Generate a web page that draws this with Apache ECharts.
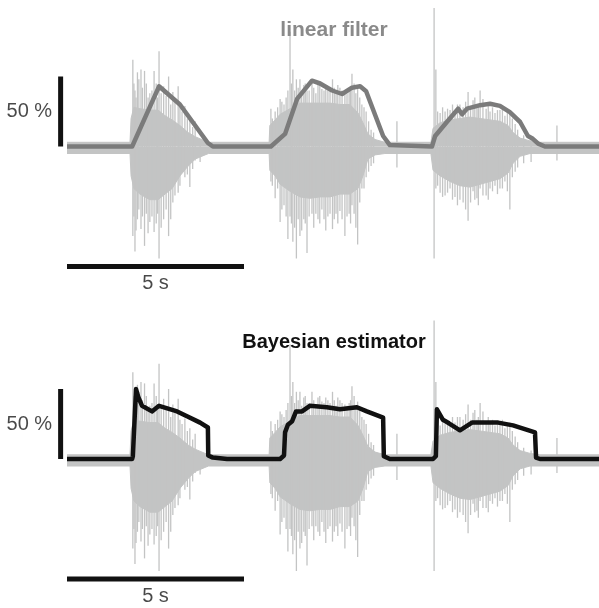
<!DOCTYPE html>
<html>
<head>
<meta charset="utf-8">
<script src="https://cdn.jsdelivr.net/npm/echarts@6/dist/echarts.min.js"></script>
<style>
  html, body { margin: 0; padding: 0; background: #fff; }
  #main { width: 599px; height: 608px; }
</style>
</head>
<body>
<div id="main"></div>
<script>
// EMG trace (same in both panels): dense body envelope, in % of scale
var emgBodyT  = [0, 1.78, 1.81, 1.89, 2.06, 2.34, 2.57, 2.77, 2.97, 3.19, 3.42, 3.62, 3.90, 4.0,
                 5.71, 5.73, 5.88, 6.02, 6.30, 6.58, 6.86, 7.15, 7.43, 7.71, 7.99, 8.22, 8.36, 8.50, 8.70, 8.98,
                 10.28, 10.34, 10.54, 10.82, 11.10, 11.38, 11.67, 11.95, 12.23, 12.46, 12.60, 12.80, 13.08, 13.36, 15.03];
var emgBodyHi = [3, 3, 20, 28, 27, 26, 26, 22, 19, 15, 10, 7, 4, 3,
                 3, 15, 19, 23, 27, 31, 31, 31, 31, 30, 30, 24, 17, 9, 5, 3,
                 3, 13, 17, 19, 20, 21, 20, 19, 18, 15, 10, 6, 4, 3, 3];
var emgBodyLo = [-5, -5, -21, -30, -34, -38, -38, -34, -30, -21, -14, -9, -6, -5,
                 -5, -17, -21, -27, -32, -36, -37, -36, -36, -34, -34, -30, -21, -9, -6, -5,
                 -5, -17, -21, -25, -28, -29, -27, -25, -23, -19, -12, -7, -5, -5, -5];

// individual EMG spikes
var spikeT  = [1.86, 1.89, 1.92, 1.95, 1.99, 2.03, 2.09, 2.13, 2.19, 2.24, 2.29, 2.34, 2.40, 2.46, 2.52, 2.56,
               2.60, 2.66, 2.73, 2.80, 2.87, 2.93, 2.99, 3.05, 3.14, 3.19, 3.25, 3.33, 3.40, 3.47, 3.55, 3.62, 3.76,
               5.76, 5.80, 5.88, 5.95, 6.02, 6.07, 6.13, 6.19, 6.24, 6.30, 6.34, 6.38, 6.43, 6.48, 6.53, 6.58,
               6.63, 6.69, 6.73, 6.78, 6.84, 6.92, 6.97, 7.03, 7.09, 7.14, 7.20, 7.26, 7.31, 7.37, 7.43, 7.50,
               7.55, 7.60, 7.65, 7.71, 7.77, 7.85, 7.91, 7.97, 8.01, 8.05, 8.11, 8.16, 8.21, 8.27, 8.33, 8.39,
               8.45, 8.52, 8.59, 8.66, 9.32,
               10.37, 10.42, 10.47, 10.54, 10.61, 10.68, 10.75, 10.82, 10.89, 10.96, 11.03, 11.10, 11.19, 11.26,
               11.33, 11.40, 11.47, 11.52, 11.58, 11.62, 11.67, 11.75, 11.84, 11.90, 11.95, 12.02, 12.09, 12.16,
               12.23, 12.30, 12.37, 12.44, 12.51, 12.58, 12.66, 12.73, 12.90, 13.11, 13.84];
var spikeHi = [62, 45, 40, 35, 53, 48, 55, 42, 54, 45, 35, 38, 40, 54, 45, 35,
               68, 38, 43, 36, 50, 30, 39, 33, 43, 28, 25, 29, 20, 22, 14, 18, 5,
               27, 20, 25, 28, 34, 32, 30, 35, 40, 82, 45, 55, 40, 48, 42, 48,
               38, 44, 45, 40, 40, 48, 42, 38, 44, 45, 41, 40, 44, 42, 40, 48,
               42, 38, 44, 42, 40, 39, 38, 40, 42, 52, 45, 38, 41, 35, 30, 28,
               25, 18, 12, 10, 18,
               99, 55, 25, 24, 28, 25, 27, 26, 30, 26, 30, 30, 28, 32,
               39, 28, 33, 35, 28, 30, 40, 34, 27, 30, 25, 28, 24, 26,
               26, 28, 22, 25, 26, 20, 16, 12, 8, 6, 15];
var spikeLo = [-64, -50, -75, -60, -52, -45, -59, -50, -71, -48, -62, -54, -50, -61, -55, -48,
               -80, -58, -52, -45, -64, -52, -40, -35, -33, -28, -18, -22, -20, -29, -16, -10, -11,
               -25, -28, -37, -30, -54, -45, -42, -50, -66, -50, -55, -68, -58, -80, -52, -64,
               -60, -52, -55, -76, -50, -48, -58, -48, -52, -55, -45, -52, -60, -50, -48, -59,
               -52, -48, -55, -46, -52, -64, -50, -48, -55, -42, -48, -58, -70, -40, -30, -30,
               -22, -18, -14, -12, -15,
               -80, -30, -28, -33, -36, -35, -33, -30, -38, -36, -42, -38, -40, -45,
               -53, -40, -32, -38, -37, -42, -30, -35, -35, -38, -30, -32, -28, -34,
               -30, -30, -25, -32, -45, -22, -18, -15, -12, -11, -10];

// linear filter estimate (%)
var linT = [0, 1.84, 2.60, 3.19, 3.98, 4.12, 5.76, 6.16, 6.50, 6.92, 7.15, 7.49, 7.77, 8.05, 8.28, 8.45,
            8.93, 9.12, 10.31, 10.40, 10.73, 11.05, 11.16, 11.30, 11.67, 11.95, 12.23, 12.51, 12.80,
            13.02, 13.16, 13.31, 13.50, 15.03];
var linV = [0, 0, 43, 30, 2.5, 0, 0, 9, 34, 47, 45, 40, 37.5, 42, 43, 39.5,
            7.5, 1, 0, 7.5, 17.5, 27, 23, 27, 29.5, 30.5, 29, 24.5, 17.5,
            7.5, 5.5, 2, 0, 0];

// Bayesian estimator (%)
var bayT = [0, 1.84, 1.86, 1.95, 2.01, 2.12, 2.40, 2.60, 3.11, 3.39, 3.76, 3.98, 3.99, 4.12, 4.52,
            6.02, 6.13, 6.16, 6.24, 6.36, 6.47, 6.64, 6.86, 7.34, 7.71, 8.19, 8.47, 8.93, 8.95, 9.12,
            10.34, 10.42, 10.45, 10.62, 10.79, 11.10, 11.44, 12.18, 12.60, 13.22, 13.25, 13.36, 15.03];
var bayV = [0, 0, 2, 50, 44.5, 38, 34, 38, 34, 30.5, 26, 22.5, 2.5, 1, 0,
            0, 2.5, 19, 24.5, 27, 34, 34, 38, 37, 35.5, 37, 34, 29.5, 2, 0,
            0, 2, 35.5, 28, 25.5, 20.5, 26, 26, 24, 19, 1, 0, 0];

// scale bars: 50 % and 5 s
var vBarT = -0.18, vBarV = [0, 50];
var hBarT = [0, 5], hBarV = -85.7;

var titles = ['linear filter', 'Bayesian estimator'];
var estColors = ['#7b7b7b', '#111111'];
var estData = [
  linT.map(function (t, i) { return [t, linV[i]]; }),
  bayT.map(function (t, i) { return [t, bayV[i]]; })
];

var emgColor = '#c3c4c4';
var font = 'Liberation Sans, Arial, sans-serif';

var chart = echarts.init(document.getElementById('main'));

var grids = [
  { left: 31.6, width: 566.4, top: 6.5, height: 280 },
  { left: 31.6, width: 566.4, top: 319, height: 280 }
];
var xAxes = [], yAxes = [], series = [];

var bodyHi = emgBodyT.map(function (t, i) { return [t, emgBodyHi[i]]; });
var bodyLo = emgBodyT.map(function (t, i) { return [t, emgBodyLo[i]]; });
var spikes = spikeT.map(function (t, i) { return [t, spikeHi[i], spikeLo[i]]; });

for (var g = 0; g < 2; g++) {
  xAxes.push({ type: 'value', gridIndex: g, min: -1, max: 15, show: false });
  yAxes.push({ type: 'value', gridIndex: g, min: -100, max: 100, show: false });

  [bodyHi, bodyLo].forEach(function (d) {
    series.push({
      type: 'line', xAxisIndex: g, yAxisIndex: g, data: d, symbol: 'none', z: 1,
      lineStyle: { color: emgColor, width: 1 },
      areaStyle: { color: emgColor, opacity: 1 }
    });
  });

  series.push({
    type: 'custom', xAxisIndex: g, yAxisIndex: g, data: spikes, z: 2,
    encode: { x: 0, y: [1, 2] },
    renderItem: function (params, api) {
      var a = api.coord([api.value(0), api.value(1)]);
      var b = api.coord([api.value(0), api.value(2)]);
      return { type: 'line', shape: { x1: a[0], y1: a[1], x2: b[0], y2: b[1] },
               style: { stroke: emgColor, lineWidth: 1.3 } };
    }
  });

  series.push({
    type: 'line', xAxisIndex: g, yAxisIndex: g, data: estData[g], symbol: 'none', z: 5,
    lineStyle: { color: estColors[g], width: 4.5, join: 'round' }
  });

  series.push({
    type: 'line', xAxisIndex: g, yAxisIndex: g, symbol: 'none', z: 6,
    data: [[vBarT, vBarV[0]], [vBarT, vBarV[1]]],
    lineStyle: { color: '#111', width: 5, cap: 'butt' }
  });
  series.push({
    type: 'line', xAxisIndex: g, yAxisIndex: g, symbol: 'none', z: 6,
    data: [[hBarT[0], hBarV], [hBarT[1], hBarV]],
    lineStyle: { color: '#111', width: 5, cap: 'butt' }
  });

  series.push({
    type: 'scatter', xAxisIndex: g, yAxisIndex: g, symbolSize: 1, z: 7,
    itemStyle: { color: 'rgba(0,0,0,0)' },
    data: [
      { value: [vBarT, (vBarV[0] + vBarV[1]) / 2],
        label: { show: true, position: 'left', distance: 8, formatter: '50 %' } },
      { value: [(hBarT[0] + hBarT[1]) / 2, hBarV],
        label: { show: true, position: 'bottom', distance: 7, formatter: '5 s' } }
    ],
    label: { color: '#1a1a1a', fontSize: 20, fontFamily: font }
  });
}

chart.setOption({
  animation: false,
  backgroundColor: '#fff',
  title: [
    { text: titles[0], left: 334, top: 20, textAlign: 'center', padding: 0,
      textStyle: { color: '#8a8a8a', fontSize: 21, fontWeight: 'bold', fontFamily: font } },
    { text: titles[1], left: 334, top: 332, textAlign: 'center', padding: 0,
      textStyle: { color: '#111', fontSize: 20, fontWeight: 'bold', fontFamily: font } }
  ],
  grid: grids,
  xAxis: xAxes,
  yAxis: yAxes,
  series: series
});
</script>
</body>
</html>
